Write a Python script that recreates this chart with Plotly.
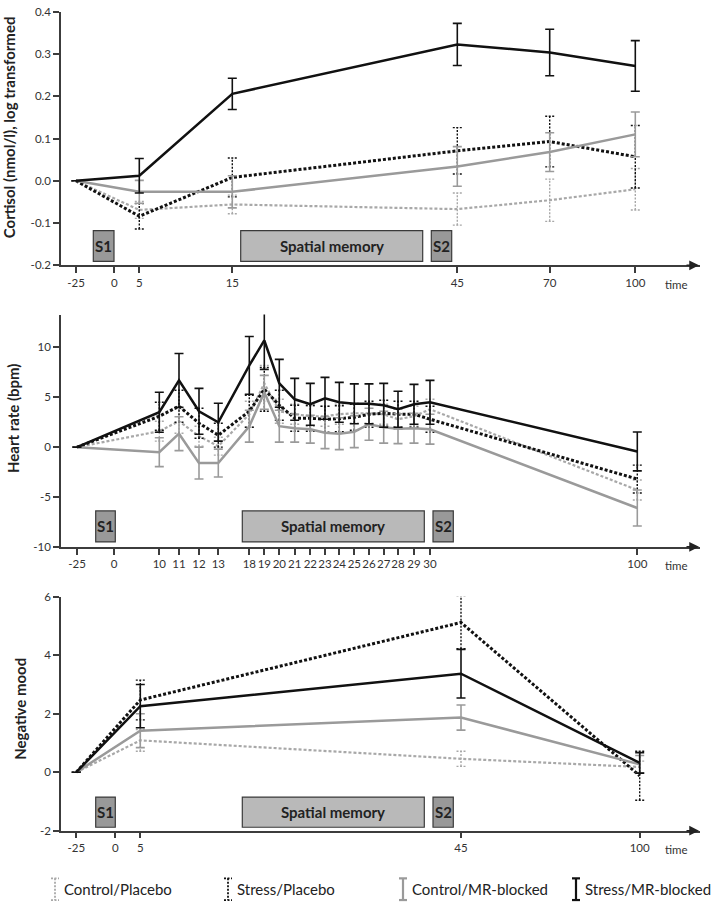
import numpy as np
import plotly.graph_objects as go

# ---------------- data ----------------
cort_times = [-25, 5, 15, 45, 70, 100]
cort_ctrl_plac = [0, -0.069, -0.056, -0.067, -0.046, -0.020]
cort_ctrl_plac_err = [0, 0.020, 0.022, 0.038, 0.050, 0.049]
cort_stress_plac = [0, -0.084, 0.008, 0.071, 0.093, 0.057]
cort_stress_plac_err = [0, 0.030, 0.046, 0.055, 0.060, 0.074]
cort_ctrl_mr = [0, -0.026, -0.026, 0.034, 0.068, 0.110]
cort_ctrl_mr_err = [0, 0.027, 0.038, 0.047, 0.046, 0.053]
cort_stress_mr = [0, 0.012, 0.206, 0.323, 0.304, 0.272]
cort_stress_mr_err = [0, 0.041, 0.037, 0.050, 0.055, 0.060]
cort_ticks = [-25, 0, 5, 15, 45, 70, 100]

hr_times = [-25, 10, 11, 12, 13, 18, 19, 20, 21, 22, 23, 24, 25, 26, 27, 28, 29, 30, 100]
hr_stress_mr = [0, 3.5, 6.7, 3.6, 2.5, 8.2, 10.7, 6.4, 4.8, 4.3, 4.9, 4.5, 4.35, 4.35, 4.2, 3.8, 4.3, 4.5, -0.43]
hr_stress_mr_err = [0, 2.0, 2.7, 2.3, 1.9, 2.9, 2.9, 2.4, 2.1, 2.1, 2.1, 2.0, 2.0, 2.0, 2.2, 1.8, 2.0, 2.2, 1.95]
hr_stress_plac = [0, 3.1, 4.1, 2.4, 1.2, 3.6, 5.8, 4.2, 2.9, 2.9, 2.8, 2.85, 3.0, 3.3, 3.4, 3.3, 3.3, 2.8, -3.2]
hr_stress_plac_err = [0, 1.4, 1.6, 1.5, 1.2, 1.6, 2.2, 1.5, 1.3, 1.3, 1.3, 1.3, 1.3, 1.3, 1.3, 1.3, 1.3, 1.3, 1.4]
hr_ctrl_plac = [0, 1.6, 2.6, 1.1, 0.1, 3.3, 6.4, 3.6, 3.3, 3.1, 3.1, 3.3, 3.4, 3.4, 3.3, 2.8, 3.1, 3.8, -4.3]
hr_ctrl_plac_err = [0, 1.0, 1.2, 1.0, 0.9, 1.3, 1.8, 1.2, 1.0, 1.0, 1.0, 1.0, 1.0, 1.0, 1.0, 1.0, 1.0, 1.0, 1.0]
hr_ctrl_mr = [0, -0.5, 1.35, -1.6, -1.6, 2.1, 5.5, 2.1, 1.9, 1.8, 1.45, 1.35, 1.55, 2.3, 2.0, 1.85, 1.9, 1.8, -6.1]
hr_ctrl_mr_err = [0, 1.45, 1.7, 1.6, 1.4, 1.6, 1.7, 1.6, 1.4, 1.4, 1.6, 1.6, 1.6, 1.6, 1.6, 1.5, 1.5, 1.5, 1.8]
hr_ticks = [-25, 0, 10, 11, 12, 13, 18, 19, 20, 21, 22, 23, 24, 25, 26, 27, 28, 29, 30, 100]

mood_times = [-25, 5, 45, 100]
mood_ctrl_plac = [0, 1.09, 0.46, 0.18]
mood_ctrl_plac_err = [0, 0.37, 0.26, 0.20]
mood_stress_plac = [0, 2.47, 5.12, -0.12]
mood_stress_plac_err = [0, 0.68, 0.90, 0.84]
mood_ctrl_mr = [0, 1.42, 1.87, 0.27]
mood_ctrl_mr_err = [0, 0.58, 0.43, 0.30]
mood_stress_mr = [0, 2.26, 3.37, 0.32]
mood_stress_mr_err = [0, 0.74, 0.83, 0.35]
mood_ticks = [-25, 0, 5, 45, 100]

group_names = ["Control/Placebo", "Stress/Placebo", "Control/MR-blocked", "Stress/MR-blocked"]

# ---------------- layout helpers ----------------
W, H = 713, 909
FONT = "Lato"
AX_COL = "#3c3c3c"
BLACK = "#111111"
GRAY_SOLID = "#9a9a9a"
GRAY_DOT = "#a8a8a8"

# horizontal screen positions of tick marks (non-linear time axis), in px units
cort_tick_pos = [76, 114.3, 139.3, 232.3, 457.3, 549.7, 635.3]
hr_tick_pos = [77, 114, 159.3, 179, 199, 218.3, 249.3, 264.3, 279.3, 294.7, 310.3, 325,
               339.3, 354.3, 369, 383.7, 398, 414, 430, 637.3]
mood_tick_pos = [76.3, 115.3, 140.3, 461, 639.7]

X0, X1 = 61, 700


def px_x(x):
    return x / W


def px_y(y):
    return 1 - y / H


def ydom(top_px, bot_px):
    return [px_y(bot_px), px_y(top_px)]


panels = [
    dict(times=cort_times, ticks=cort_ticks, tpos=cort_tick_pos,
         series=[(cort_ctrl_plac, cort_ctrl_plac_err), (cort_stress_plac, cort_stress_plac_err),
                 (cort_ctrl_mr, cort_ctrl_mr_err), (cort_stress_mr, cort_stress_mr_err)],
         yr=[-0.2, 0.4], yt=[-0.2, -0.1, 0.0, 0.1, 0.2, 0.3, 0.4],
         ytt=["-0.2", "-0.1", "0.0", "0.1", "0.2", "0.3", "0.4"],
         dom=ydom(5, 262), box_y=[-0.191, -0.118],
         boxes=[(93.3, 114), (240.7, 422.7), (431.3, 451.7)],
         title="Cortisol (nmol/l), log transformed", title_xy=(9, 122)),
    dict(times=hr_times, ticks=hr_ticks, tpos=hr_tick_pos,
         series=[(hr_ctrl_plac, hr_ctrl_plac_err), (hr_stress_plac, hr_stress_plac_err),
                 (hr_ctrl_mr, hr_ctrl_mr_err), (hr_stress_mr, hr_stress_mr_err)],
         yr=[-10, 13.3], yt=[-10, -5, 0, 5, 10], ytt=["-10", "-5", "0", "5", "10"],
         dom=ydom(312, 547.7), box_y=[-9.5, -6.4],
         boxes=[(95.7, 115.3), (242.3, 424.3), (433, 453.3)],
         title="Heart rate (bpm)", title_xy=(13, 417)),
    dict(times=mood_times, ticks=mood_ticks, tpos=mood_tick_pos,
         series=[(mood_ctrl_plac, mood_ctrl_plac_err), (mood_stress_plac, mood_stress_plac_err),
                 (mood_ctrl_mr, mood_ctrl_mr_err), (mood_stress_mr, mood_stress_mr_err)],
         yr=[-2, 6], yt=[-2, 0, 2, 4, 6], ytt=["-2", "0", "2", "4", "6"],
         dom=ydom(598.3, 835.7), box_y=[-1.88, -0.85],
         boxes=[(95.7, 115.3), (242.3, 424.3), (433, 453.3)],
         title="Negative mood", title_xy=(20, 712)),
]

styles = [
    dict(color=GRAY_DOT, width=2.2, dash="3px,2px", solid=False, ecol=GRAY_DOT),
    dict(color=BLACK, width=3, dash="3px,2px", solid=False, ecol=BLACK),
    dict(color=GRAY_SOLID, width=2.5, dash="solid", solid=True, ecol=GRAY_SOLID),
    dict(color=BLACK, width=2.5, dash="solid", solid=True, ecol=BLACK),
]

CAP = 4.5

fig = go.Figure()
shapes = []
annotations = []

for i, p in enumerate(panels):
    k = "" if i == 0 else str(i + 1)
    xref, yref = "x" + k, "y" + k
    xpos = np.interp(p["times"], p["ticks"], p["tpos"])
    for si, ((vals, errs), st) in enumerate(zip(p["series"], styles)):
        vals = np.array(vals, float)
        errs = np.array(errs, float)
        if not st["solid"]:
            ex, ey = [], []
            for xx, v, e in zip(xpos, vals, errs):
                ex += [xx, xx, None, xx - CAP, xx + CAP, None, xx - CAP, xx + CAP, None]
                ey += [v - e, v + e, None, v + e, v + e, None, v - e, v - e, None]
            fig.add_trace(go.Scatter(x=ex, y=ey, mode="lines", xaxis=xref, yaxis=yref,
                                     line=dict(color=st["ecol"], width=1.4, dash="2px,1.5px"),
                                     showlegend=False, hoverinfo="skip"))
            fig.add_trace(go.Scatter(x=xpos, y=vals, mode="lines", xaxis=xref, yaxis=yref,
                                     name=group_names[si],
                                     line=dict(color=st["color"], width=st["width"], dash=st["dash"]),
                                     showlegend=False))
        else:
            fig.add_trace(go.Scatter(x=xpos, y=vals, mode="lines", xaxis=xref, yaxis=yref,
                                     name=group_names[si],
                                     line=dict(color=st["color"], width=st["width"]),
                                     error_y=dict(type="data", array=errs, visible=True,
                                                  color=st["ecol"], thickness=1.6, width=CAP),
                                     showlegend=False))
    # axes
    fig.update_layout(**{
        "xaxis" + k: dict(domain=[px_x(X0), px_x(X1)], range=[X0, X1], anchor=yref,
                          tickvals=p["tpos"], ticktext=[str(t) for t in p["ticks"]],
                          tickangle=0,
                          showline=True, linecolor=AX_COL, linewidth=1.5,
                          ticks="outside", ticklen=6, tickwidth=1.5, tickcolor=AX_COL,
                          showgrid=False, zeroline=False,
                          tickfont=dict(family=FONT, size=11.5, color="#333333")),
        "yaxis" + k: dict(domain=p["dom"], range=p["yr"], anchor=xref,
                          tickvals=p["yt"], ticktext=p["ytt"],
                          showline=True, linecolor=AX_COL, linewidth=1.5,
                          ticks="outside", ticklen=6, tickwidth=1.5, tickcolor=AX_COL,
                          showgrid=False, zeroline=False,
                          tickfont=dict(family=FONT, size=11.5, color="#333333")),
    })
    # boxes
    labels = ["S1", "Spatial memory", "S2"]
    fills = ["#999999", "#b9b9b9", "#999999"]
    for (bx0, bx1), lab, fc in zip(p["boxes"], labels, fills):
        shapes.append(dict(type="rect", xref=xref, yref=yref, x0=bx0, x1=bx1,
                           y0=p["box_y"][0], y1=p["box_y"][1], fillcolor=fc,
                           line=dict(color="#3a3a3a", width=1.2), layer="below"))
        annotations.append(dict(x=(bx0 + bx1) / 2, y=sum(p["box_y"]) / 2, xref=xref, yref=yref,
                                text="<b>%s</b>" % lab, showarrow=False,
                                font=dict(family=FONT, size=15, color="#222222")))
    # arrow at end of x axis
    annotations.append(dict(x=X1 - 1, y=0, xref=xref, yref=yref + " domain", ax=-14, ay=0,
                            text="", showarrow=True, arrowhead=2, arrowsize=1.3,
                            arrowwidth=1.5, arrowcolor="#222222"))
    # 'time' label
    annotations.append(dict(x=X1 - 24, y=0, xref=xref, yref=yref + " domain", yshift=-19,
                            xanchor="center", yanchor="middle",
                            text="time", showarrow=False,
                            font=dict(family=FONT, size=11.5, color="#333333")))
    # y-axis title
    tx, ty = p["title_xy"]
    annotations.append(dict(x=px_x(tx), y=px_y(ty), xref="paper", yref="paper",
                            xanchor="center", yanchor="middle",
                            text="<b>%s</b>" % p["title"], textangle=-90, showarrow=False,
                            font=dict(family=FONT, size=15, color="#222222")))

# custom legend with error-bar glyphs
leg_icon_x = [55, 228, 403, 576]
leg_y_top, leg_y_bot = 884, 906
for name, st, ix in zip(group_names, styles, leg_icon_x):
    dash = "solid" if st["solid"] else "2px,1.5px"
    w = 2.2 if st["solid"] else 1.8
    for seg in [(ix, leg_y_top, ix, leg_y_bot), (ix - 4, leg_y_top, ix + 4, leg_y_top),
                (ix - 4, leg_y_bot, ix + 4, leg_y_bot)]:
        shapes.append(dict(type="line", xref="paper", yref="paper",
                           x0=px_x(seg[0]), y0=px_y(seg[1]), x1=px_x(seg[2]), y1=px_y(seg[3]),
                           line=dict(color=st["color"], width=w, dash=dash)))
    annotations.append(dict(x=px_x(ix + 7), y=px_y(895), xref="paper", yref="paper",
                            xanchor="left", yanchor="middle", text=name, showarrow=False,
                            font=dict(family=FONT, size=15, color="#222222")))

fig.update_layout(width=W, height=H, margin=dict(l=0, r=0, t=0, b=0),
                  paper_bgcolor="white", plot_bgcolor="white", showlegend=False,
                  shapes=shapes, annotations=annotations,
                  font=dict(family=FONT))

fig.write_html("out.html", config={"displayModeBar": False},
               post_script="document.body.style.margin='0';document.body.style.overflow='hidden';")
